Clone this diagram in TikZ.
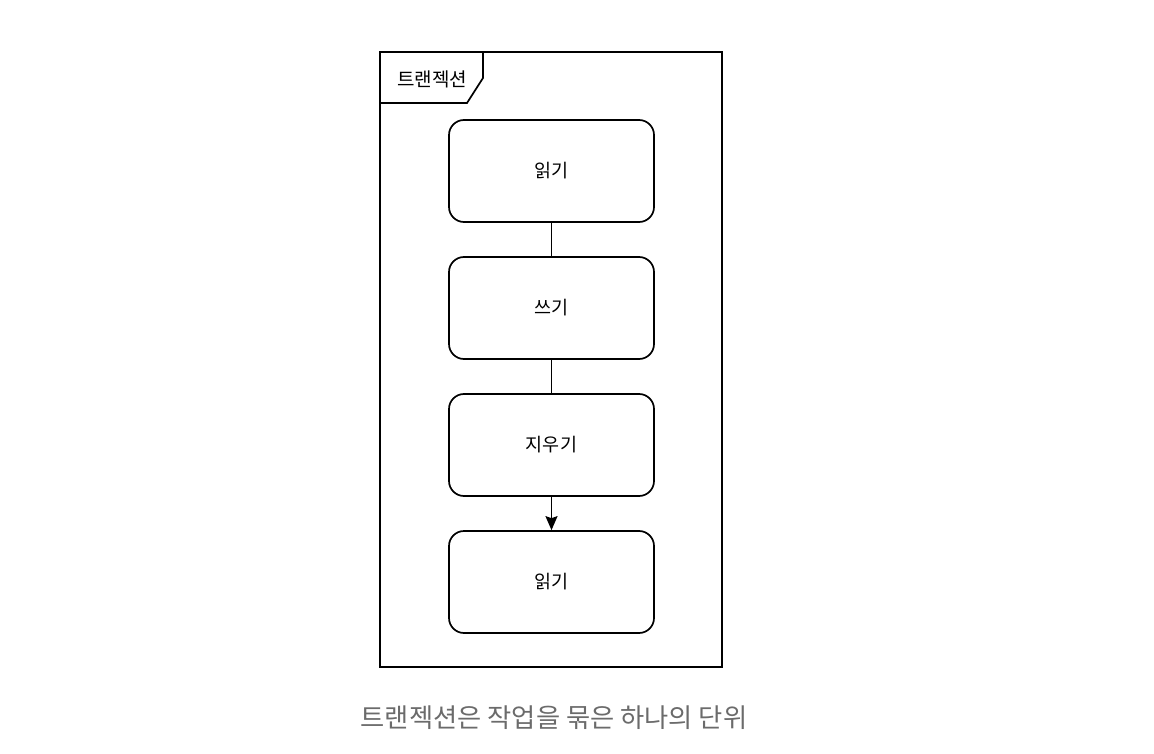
\documentclass[tikz,border=0pt]{standalone}
\usepackage{fontspec}
\setmainfont{Noto Sans CJK KR}
\usetikzlibrary{arrows.meta}
\definecolor{captiongray}{HTML}{6B6B6B}
\begin{document}
\begin{tikzpicture}[x=1pt,y=-1pt,
  stepbox/.style={draw, line width=1.7pt, rounded corners=15pt, minimum width=205pt, minimum height=102pt, font=\fontsize{18.5}{22}\selectfont, inner sep=0pt},
  link/.style={line width=1.6pt},
  frameline/.style={line width=1.7pt}]
\useasboundingbox (0,0) rectangle (1154,754);
\draw[frameline] (380,52) rectangle (722,667);
\draw[frameline] (380,103) -- (467,103) -- (483,78) -- (483,52);
\node[font=\fontsize{19}{22}\selectfont, anchor=center] (tab) at (432,79) {트랜젝션};
\node[stepbox] (r1) at (551.5,171) {읽기};
\node[stepbox] (w) at (551.5,308) {쓰기};
\node[stepbox] (d) at (551.5,445) {지우기};
\node[stepbox] (r2) at (551.5,582) {읽기};
\draw[link] (r1) -- (w);
\draw[link] (w) -- (d);
\draw[link, -{Stealth[length=14pt,width=12pt,inset=2pt]}] (d) -- (r2);
\node[font=\fontsize{26.3}{30}\selectfont, text=captiongray] (cap) at (554,718) {트랜젝션은 작업을 묶은 하나의 단위};
\end{tikzpicture}
\end{document}
